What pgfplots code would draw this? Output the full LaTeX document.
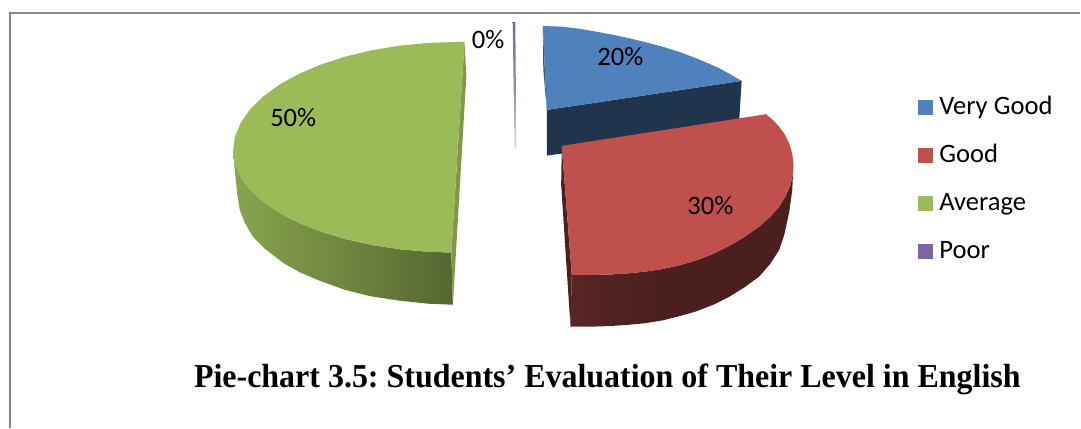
\documentclass[border=0pt]{standalone}
\usepackage{pgfplots}
\pgfplotsset{compat=1.18}
\usepackage{fontspec}
\setmainfont{Carlito}
\newfontfamily\titlefont{Liberation Serif}
\definecolor{vgood}{HTML}{4F81BD}
\definecolor{good}{HTML}{C0504D}
\definecolor{avg}{HTML}{9BBB59}
\definecolor{poor}{HTML}{8064A2}
\definecolor{framegray}{HTML}{868686}
\definecolor{sideA}{HTML}{6A2E2B}
\definecolor{sideB}{HTML}{4A1F1D}
\pgfdeclarehorizontalshading{redside}{100bp}{color(0bp)=(sideA); color(45bp)=(sideB); color(100bp)=(sideB)}
\pgfplotstableread{
x y
465.0 41.7
429.1 42.9
400.2 45.7
372.3 50.3
345.9 56.6
321.4 64.5
299.3 73.9
279.8 84.6
263.5 96.5
250.4 109.3
241.0 122.8
235.2 136.8
233.3 151.0
235.2 164.3
241.0 177.4
250.4 190.0
263.5 202.0
279.8 213.1
299.3 223.1
321.4 231.9
345.9 239.3
372.3 245.2
400.2 249.5
429.1 252.1
451.7 252.7
}\avgtop
\pgfplotstableread{
x y
233.3 151.0
235.2 164.3
241.0 177.4
250.4 190.0
263.5 202.0
279.8 213.1
299.3 223.1
321.4 231.9
345.9 239.3
372.3 245.2
400.2 249.5
429.1 252.1
451.7 252.7
453.3 305.0
429.0 304.0
400.0 301.0
371.0 296.5
345.0 290.0
320.0 281.0
300.0 272.5
284.0 263.5
265.0 249.0
253.0 236.7
245.0 223.0
240.0 210.0
237.5 195.0
236.0 180.0
234.5 165.0
}\avgside
\pgfplotstableread{
x y
562.3 146.0
766.7 114.3
774.0 120.5
780.0 127.0
785.5 134.5
790.0 143.5
792.8 153.0
794.2 163.0
793.7 174.0
791.2 185.0
786.5 196.0
780.0 206.7
771.0 217.0
760.0 226.7
746.0 236.5
730.0 246.0
714.0 254.0
696.7 260.7
680.0 265.5
663.0 269.3
646.0 271.8
630.0 273.5
613.0 274.6
596.7 275.2
572.3 275.2
}\goodtop
\pgfplotstableread{
x y
794.2 163.0
793.7 174.0
791.2 185.0
786.5 196.0
780.0 206.7
771.0 217.0
760.0 226.7
746.0 236.5
730.0 246.0
714.0 254.0
696.7 260.7
680.0 265.5
663.0 269.3
646.0 271.8
630.0 273.5
613.0 274.6
596.7 275.2
572.3 275.2
571.0 326.8
596.7 326.8
613.0 326.2
630.0 325.0
646.0 323.5
663.0 320.7
680.0 316.5
696.7 311.7
714.0 305.0
730.0 297.0
746.0 287.0
760.0 276.7
771.0 264.0
780.0 250.0
785.0 235.0
790.0 212.0
793.0 190.0
}\goodside
\pgfplotstableread{
x y
543.3 26.0
563.0 26.7
580.0 28.8
596.7 31.7
613.0 34.7
630.0 38.3
646.0 42.2
663.0 46.7
680.0 52.0
696.7 58.3
708.0 63.0
720.0 68.3
732.0 75.0
742.3 81.0
547.3 110.0
}\vgoodtop
\begin{document}
\frenchspacing
\begin{tikzpicture}
\begin{axis}[
  scale only axis, width=1081pt, height=428pt,
  xmin=0, xmax=1081, ymin=0, ymax=428, y dir=reverse,
  hide axis, clip=false,
  legend image code/.code={\fill[draw=none,#1] (0pt,0.2pt) rectangle (15pt,15.2pt); \path (21pt,0pt);},
  legend cell align=left,
  legend style={draw=none, fill=none, at={(axis cs:919,97)}, anchor=north west,
    inner sep=0pt, outer sep=0pt, font=\fontsize{26.6}{26.6}\selectfont,
    row sep=18pt,
    nodes={inner sep=0pt, outer sep=0pt, text height=18pt, text depth=12pt, anchor=base west}},
]
\addplot[draw=none, forget plot] coordinates {(0,0) (1081,428)};
% border of the chart area
\addplot[framegray, line width=2pt, forget plot] coordinates {(10,428) (10,13) (1081,13)};
% Average slice: rim, cut face, top
\addplot[draw=none, left color=avg!88!black, right color=avg!55!black, forget plot] table {\avgside} -- cycle;
\addplot[draw=none, fill=avg!82!black, forget plot] coordinates {(465,41.7) (466.7,77) (453.3,305) (451.7,252.7)} -- cycle;
\addplot[draw=none, fill=avg, forget plot] table {\avgtop} -- cycle;
% Poor slice, almost nothing but a sliver
\addplot[draw=none, top color=poor, bottom color=black!12, middle color=poor!80!black!70, forget plot] coordinates {(513.2,22) (515.8,22) (516.8,149) (515,149)} -- cycle;
% Very Good slice
\addplot[draw=none, fill=vgood!70!black, forget plot] coordinates {(543.3,26) (543.8,70) (547.3,110)} -- cycle;
\addplot[draw=none, fill=vgood!40!black, forget plot] coordinates {(547.3,110) (742.3,81) (739.3,130) (547.3,155.7)} -- cycle;
\addplot[draw=none, fill=vgood, forget plot] table {\vgoodtop} -- cycle;
% Good slice
\addplot[draw=none, fill=sideB, forget plot] coordinates {(562.3,146) (561.7,185) (571,326.8) (572.3,275.2)} -- cycle;
\addplot[draw=none, shade, shading=redside, forget plot] table {\goodside} -- cycle;
\addplot[draw=none, fill=good, forget plot] table {\goodtop} -- cycle;
% legend keys
\addlegendimage{fill=vgood}\addlegendentry{Very Good}
\addlegendimage{fill=good}\addlegendentry{Good}
\addlegendimage{fill=avg}\addlegendentry{Average}
\addlegendimage{fill=poor}\addlegendentry{Poor}
% value labels
\node[font=\fontsize{26.6}{26.6}\selectfont] at (axis cs:293.5,118) {50\%};
\node[font=\fontsize{26.6}{26.6}\selectfont] at (axis cs:621,57) {20\%};
\node[font=\fontsize{26.6}{26.6}\selectfont] at (axis cs:711,206) {30\%};
\node[font=\fontsize{26.6}{26.6}\selectfont] at (axis cs:488.5,40) {0\%};
% caption
\node[font=\titlefont\bfseries\fontsize{33.5}{33.5}\selectfont, anchor=west, inner sep=0pt, xscale=0.955] at (axis cs:194,379.5) {Pie-chart 3.5: Students’ Evaluation of Their Level in English};
\end{axis}
\end{tikzpicture}
\end{document}
